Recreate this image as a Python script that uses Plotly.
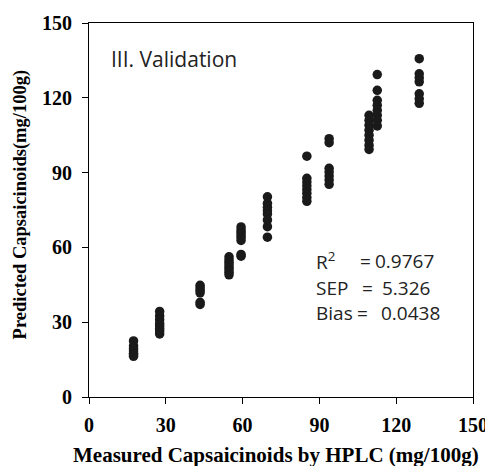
import plotly.graph_objects as go

# Measured (HPLC) values of each sample group and the predicted values
measured_groups = [17.4, 27.6, 43.4, 54.7, 59.4, 69.7, 85.1, 93.8, 109.4, 112.6, 129.0]
predicted_groups = [
    [22.5, 20.5, 19.5, 18.5, 17.5, 17.0, 16.3],
    [34.3, 32.5, 31.0, 29.5, 28.5, 27.5, 26.5, 25.3],
    [44.8, 43.8, 42.8, 41.8, 38.0, 37.1],
    [56.2, 55.0, 54.0, 53.0, 52.0, 51.0, 50.0, 49.0],
    [68.2, 67.0, 66.0, 65.0, 64.0, 62.8, 57.2, 56.5],
    [80.3, 77.7, 76.1, 74.7, 73.4, 71.0, 68.3, 64.1],
    [96.6, 87.7, 86.2, 84.7, 83.2, 81.7, 80.0, 78.5],
    [103.6, 102.0, 91.7, 90.2, 88.6, 87.0, 85.3],
    [113.0, 111.0, 109.0, 107.0, 105.0, 103.0, 101.0, 99.3],
    [129.3, 123.0, 119.0, 117.0, 115.0, 113.0, 111.0, 108.7],
    [135.7, 129.6, 128.0, 126.4, 121.6, 119.6, 117.8],
]
tick_vals = [0, 30, 60, 90, 120, 150]
x_title = "Measured Capsaicinoids by HPLC (mg/100g)"
y_title = "Predicted Capsaicinoids(mg/100g)"
panel_label = "III. Validation"
stat_labels = ["R<sup>2</sup>", "SEP", "Bias"]
stat_values = ["0.9767", "5.326", "0.0438"]

xs, ys = [], []
for m, preds in zip(measured_groups, predicted_groups):
    for p in preds:
        xs.append(m)
        ys.append(p)

fig = go.Figure()
fig.add_trace(go.Scatter(
    x=xs, y=ys, mode="markers",
    marker=dict(size=9.5, color="#1a1a1a", line=dict(width=0)),
    showlegend=False, cliponaxis=False,
))

axis_common = dict(
    range=[0, 150], tickvals=tick_vals, ticks="outside", ticklen=6,
    tickcolor="black", showline=True, linecolor="black", linewidth=1.2,
    mirror=True, showgrid=False, zeroline=False, automargin=False,
    tickfont=dict(family="Liberation Serif", size=20, color="black", weight="bold"),
)
fig.update_xaxes(**axis_common, ticklabelstandoff=4)
fig.update_yaxes(**axis_common, ticklabelstandoff=6)

serif_bold = dict(family="Liberation Serif", color="black", weight="bold")
anns = [
    dict(x=0.487, y=-0.154, xref="paper", yref="paper", text=x_title,
         showarrow=False, xanchor="center", yanchor="middle",
         font=dict(size=21, **serif_bold)),
    dict(x=-0.179, y=0.513, xref="paper", yref="paper", text=y_title,
         showarrow=False, xanchor="center", yanchor="middle", textangle=-90,
         font=dict(size=18.5, **serif_bold)),
    dict(x=8.0, y=135.5, xref="x", yref="y", text=panel_label,
         showarrow=False, xanchor="left", yanchor="middle",
         font=dict(family="Open Sans", size=21, color="#222")),
]
txt_font = dict(family="Open Sans", size=19, color="#222")
stat_y = [54.5, 43.8, 33.7]
eq_x = [105.0, 105.8, 103.9]
val_x = [110.8, 113.6, 113.2]
for lab, val, yy, ex, vx in zip(stat_labels, stat_values, stat_y, eq_x, val_x):
    anns.append(dict(x=88.0, y=yy, xref="x", yref="y", text=lab, showarrow=False,
                     xanchor="left", yanchor="middle", font=txt_font))
    anns.append(dict(x=ex, y=yy, xref="x", yref="y", text="=", showarrow=False,
                     xanchor="left", yanchor="middle", font=txt_font))
    anns.append(dict(x=vx, y=yy, xref="x", yref="y", text=val, showarrow=False,
                     xanchor="left", yanchor="middle", font=txt_font))

# page body has an 8px default margin, so the figure is 8px smaller each way
fig.update_layout(
    width=485, height=458,
    margin=dict(l=81, r=20, t=15, b=69),
    plot_bgcolor="white", paper_bgcolor="white",
    annotations=anns,
)
fig.write_html("out.html")
